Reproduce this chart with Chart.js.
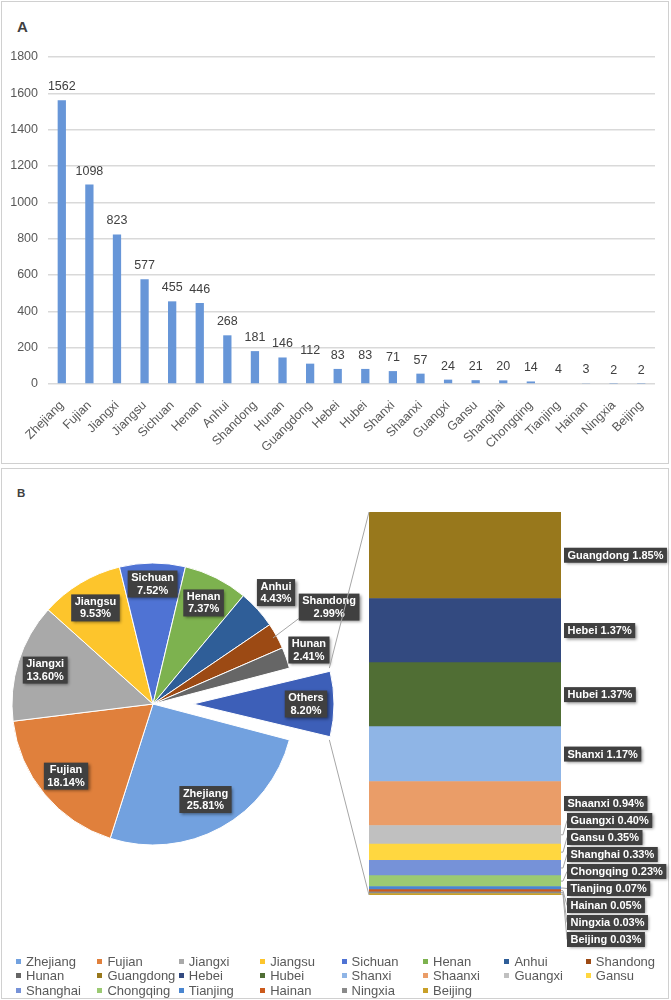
<!DOCTYPE html>
<html>
<head>
<meta charset="utf-8">
<script src="https://cdn.jsdelivr.net/npm/chart.js@4.4.0/dist/chart.umd.min.js"></script>
<style>
  body { margin: 0; background: #fff; font-family: "Liberation Sans", Arial, sans-serif; }
  #page { position: relative; width: 671px; height: 1000px; overflow: hidden; }
  .panel { position: absolute; left: 1px; width: 668px; border: 1px solid #d0d0d0; box-sizing: border-box; }
  .tag { position: absolute; left: 17px; font-weight: bold; color: #404040; }
  canvas { position: absolute; left: 0; }
  #legend { position: absolute; left: 0; top: 0; }
  .item { position: absolute; font-size: 13px; color: #595959; line-height: 14px; white-space: nowrap; }
  .item i { display: inline-block; width: 5px; height: 5px; margin-right: 5px; vertical-align: 2px; }
</style>
</head>
<body>
<div id="page">
  <div class="panel" style="top:1px;height:463px;"></div>
  <div class="panel" style="top:468px;height:531px;"></div>
  <div class="tag" style="top:18px;font-size:15px;">A</div>
  <div class="tag" style="top:487px;font-size:11.5px;">B</div>
  <canvas id="barA" width="671" height="465" style="top:0;"></canvas>
  <canvas id="pieB" width="671" height="532" style="top:468px;"></canvas>
  <canvas id="stackB" width="671" height="532" style="top:468px;"></canvas>
  <div id="legend"></div>
</div>
<script>
Chart.defaults.font.family = '"Liberation Sans", Arial, sans-serif';
Chart.defaults.animation = false;

// data
const provinces = ['Zhejiang', 'Fujian', 'Jiangxi', 'Jiangsu', 'Sichuan', 'Henan', 'Anhui', 'Shandong', 'Hunan',
	'Guangdong', 'Hebei', 'Hubei', 'Shanxi', 'Shaanxi', 'Guangxi', 'Gansu', 'Shanghai', 'Chongqing',
	'Tianjing', 'Hainan', 'Ningxia', 'Beijing'];
const counts = [1562, 1098, 823, 577, 455, 446, 268, 181, 146, 112, 83, 83, 71, 57, 24, 21, 20, 14, 4, 3, 2, 2];
const yMax = 1800;
const yStep = 200;
const ownSlices = 9; // first provinces get their own pie slice, the rest go into "Others"

const provinceColors = ['#72a1df', '#e0803c', '#a9a9a9', '#fdc52c', '#4f73d4', '#7db24f', '#2f5e98', '#9c4a14', '#666666',
	'#98781c', '#334a80', '#506e34', '#8fb5e6', '#ea9d68', '#c0c0c0', '#ffd740', '#7692d8', '#9bca72',
	'#4a86d0', '#cc5a1c', '#8a8a8a', '#c9a028'];
const othersColor = '#3d5fb8';

const total = counts.reduce((a, b) => a + b, 0);
const pct = v => (v / total * 100).toFixed(2) + '%';

const pieLabels = provinces.slice(0, ownSlices).concat('Others');
const tailNames = provinces.slice(ownSlices);
const tailCounts = counts.slice(ownSlices);
const pieValues = counts.slice(0, ownSlices).concat(tailCounts.reduce((a, b) => a + b, 0));
const pieColors = provinceColors.slice(0, ownSlices).concat(othersColor);

const boxFont = 'bold 11px "Liberation Sans", Arial, sans-serif';

function drawBox(ctx, x, y, w, h) {
	ctx.save();
	ctx.shadowColor = 'rgba(0,0,0,0.45)';
	ctx.shadowBlur = 3;
	ctx.shadowOffsetX = 1.5;
	ctx.shadowOffsetY = 1.5;
	ctx.fillStyle = '#404040';
	ctx.fillRect(x, y, w, h);
	ctx.restore();
}

// ---------- A : bar chart ----------
const barValueLabels = {
	id: 'barValueLabels',
	afterDatasetsDraw(chart) {
		const { ctx } = chart;
		ctx.save();
		ctx.font = '12.5px "Liberation Sans", Arial, sans-serif';
		ctx.fillStyle = '#404040';
		ctx.textAlign = 'center';
		chart.getDatasetMeta(0).data.forEach((bar, i) => {
			ctx.fillText(counts[i], bar.x, bar.y - 10);
		});
		ctx.restore();
	},
};

new Chart(document.getElementById('barA'), {
	type: 'bar',
	data: {
		labels: provinces,
		datasets: [{
			data: counts,
			backgroundColor: '#6796d8',
			barPercentage: 0.3,
			categoryPercentage: 1,
		}],
	},
	options: {
		responsive: false,
		layout: { padding: { top: 57, right: 16, left: 0, bottom: 0 } },
		plugins: { legend: { display: false }, tooltip: { enabled: false } },
		scales: {
			x: {
				grid: { display: false },
				border: { display: false },
				ticks: {
					color: '#595959',
					font: { size: 12.5 },
					minRotation: 45,
					maxRotation: 45,
					padding: 6,
				},
				afterFit: scale => { scale.height = 81; },
			},
			y: {
				min: 0,
				max: yMax,
				border: { display: false },
				grid: { color: '#d9d9d9', lineWidth: 1.5, drawTicks: false },
				ticks: {
					stepSize: yStep,
					color: '#595959',
					font: { size: 12.5 },
					padding: 10,
					callback: v => String(v),
				},
				afterFit: scale => { scale.width = 48; },
			},
		},
	},
	plugins: [barValueLabels],
});

// ---------- B : pie of bar ----------
const PIE_R = 141;
const explodePx = [0, 0, 0, 0, 0, 0, 0, 0, 0, 40];
const labelDist = [109, 113, 113, 112, 120, 113, 166, 201, 165, 113];

const pieLabelsPlugin = {
	id: 'pieLabelsPlugin',
	afterDatasetsUpdate(chart) {
		// keep the exploded slice at the same radius as the others
		chart.getDatasetMeta(0).data.forEach((arc, i) => {
			const off = explodePx[i];
			if (!off) return;
			const fix = 1 - Math.sin(Math.min(Math.PI, arc.circumference));
			arc.outerRadius = PIE_R - off * fix;
		});
	},
	afterDatasetsDraw(chart) {
		const { ctx } = chart;
		ctx.save();
		ctx.font = boxFont;
		ctx.textAlign = 'center';
		ctx.textBaseline = 'middle';
		chart.getDatasetMeta(0).data.forEach((arc, i) => {
			const mid = (arc.startAngle + arc.endAngle) / 2;
			const cx = arc.x + Math.cos(mid) * explodePx[i];
			const cy = arc.y + Math.sin(mid) * explodePx[i];
			const lx = cx + Math.cos(mid) * labelDist[i];
			const ly = cy + Math.sin(mid) * labelDist[i];
			const lines = [pieLabels[i], pct(pieValues[i])];
			const w = Math.max(...lines.map(t => ctx.measureText(t).width)) + 7;
			const h = 27;
			if (labelDist[i] > PIE_R + 50) {
				ctx.strokeStyle = '#a6a6a6';
				ctx.lineWidth = 1;
				ctx.beginPath();
				ctx.moveTo(lx - w / 2, ly + h / 2 - 2);
				ctx.lineTo(cx + Math.cos(mid) * (PIE_R - 4), cy + Math.sin(mid) * (PIE_R - 4));
				ctx.stroke();
			}
			drawBox(ctx, lx - w / 2, ly - h / 2, w, h);
			ctx.fillStyle = '#fff';
			ctx.fillText(lines[0], lx, ly - 6);
			ctx.fillText(lines[1], lx, ly + 6.5);
		});
		ctx.restore();
	},
};

const pieChart = new Chart(document.getElementById('pieB'), {
	type: 'pie',
	data: {
		labels: pieLabels,
		datasets: [{
			data: pieValues,
			backgroundColor: pieColors,
			borderColor: '#ffffff',
			borderWidth: 1,
			offset: explodePx.map(v => v * 4),
		}],
	},
	options: {
		responsive: false,
		radius: PIE_R,
		rotation: 90 + (pieValues[ownSlices] / total) * 180,
		layout: { padding: { left: 0, right: 365, top: 0, bottom: 60 } },
		plugins: { legend: { display: false }, tooltip: { enabled: false } },
	},
	plugins: [pieLabelsPlugin],
});

const stackLabels = {
	id: 'stackLabels',
	afterDatasetsDraw(chart) {
		const { ctx, chartArea } = chart;
		ctx.save();
		// connector lines from the exploded slice to the bar
		const arc = pieChart.getDatasetMeta(0).data[ownSlices];
		const mid = (arc.startAngle + arc.endAngle) / 2;
		const cx = arc.x + Math.cos(mid) * explodePx[ownSlices];
		const cy = arc.y + Math.sin(mid) * explodePx[ownSlices];
		ctx.strokeStyle = '#a6a6a6';
		ctx.lineWidth = 1;
		ctx.beginPath();
		ctx.moveTo(cx + Math.cos(arc.startAngle) * PIE_R, cy + Math.sin(arc.startAngle) * PIE_R);
		ctx.lineTo(chartArea.left, chartArea.top);
		ctx.moveTo(cx + Math.cos(arc.endAngle) * PIE_R, cy + Math.sin(arc.endAngle) * PIE_R);
		ctx.lineTo(chartArea.left, chartArea.bottom);
		ctx.stroke();

		ctx.font = boxFont;
		ctx.textBaseline = 'middle';
		ctx.textAlign = 'left';
		let prevY = -Infinity;
		tailNames.forEach((name, j) => {
			const di = tailNames.length - 1 - j;
			const el = chart.getDatasetMeta(di).data[0];
			const segMid = (el.y + el.base) / 2;
			const segH = el.base - el.y;
			const small = segH < 20;
			const y = small ? prevY + 17 : segMid;
			prevY = y;
			const text = name + ' ' + pct(tailCounts[j]);
			const x = chartArea.right + (small ? 6 : 3);
			const w = ctx.measureText(text).width + 7;
			if (small) {
				ctx.strokeStyle = '#a6a6a6';
				ctx.beginPath();
				ctx.moveTo(chartArea.right, segMid);
				ctx.lineTo(chartArea.right + 2, segMid);
				ctx.lineTo(x, y);
				ctx.stroke();
			}
			drawBox(ctx, x, y - 7.5, w, 15);
			ctx.fillStyle = '#fff';
			ctx.fillText(text, x + 3.5, y + 0.5);
		});
		ctx.restore();
	},
};

new Chart(document.getElementById('stackB'), {
	type: 'bar',
	data: {
		labels: [''],
		datasets: tailNames.map((name, j) => ({
			label: name,
			data: [tailCounts[j]],
			backgroundColor: provinceColors[ownSlices + j],
			barPercentage: 1,
			categoryPercentage: 1,
		})).reverse(),
	},
	options: {
		responsive: false,
		layout: { padding: { left: 369, right: 110, top: 44, bottom: 105 } },
		plugins: { legend: { display: false }, tooltip: { enabled: false } },
		scales: {
			x: { stacked: true, display: false },
			y: { stacked: true, display: false, min: 0, max: pieValues[ownSlices] },
		},
	},
	plugins: [stackLabels],
});

// legend, 8 columns like the original
const legend = document.getElementById('legend');
provinces.forEach((name, i) => {
	const col = i % 8, row = Math.floor(i / 8);
	const d = document.createElement('div');
	d.className = 'item';
	d.style.left = (16 + col * 81.4) + 'px';
	d.style.top = (955 + row * 14.3) + 'px';
	d.innerHTML = '<i style="background:' + provinceColors[i] + '"></i>' + name;
	legend.appendChild(d);
});
</script>
</body>
</html>
